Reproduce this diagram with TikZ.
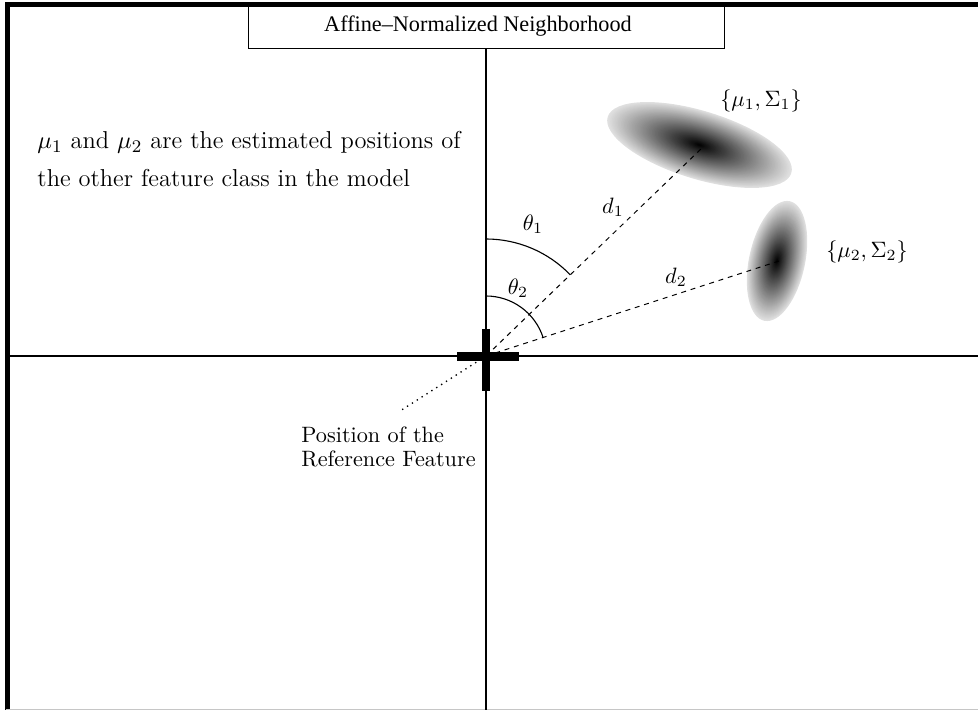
\documentclass[tikz,border=0pt]{standalone}
\usepackage{fontspec}
\newfontfamily\timesfont{Liberation Serif}
\begin{document}
\begin{tikzpicture}[x=0.45pt,y=-0.45pt,
  frameline/.style={line width=2pt, line join=miter},
  axisline/.style={line width=0.9pt},
  rayline/.style={dash pattern=on 2.2pt off 2.2pt, line width=0.45pt},
  angarc/.style={line width=0.5pt},
  crossbar/.style={line width=4pt},
  lbl/.style={font=\fontsize{10}{12}\selectfont, inner sep=0pt},
  bigtxt/.style={font=\fontsize{11}{13}\selectfont, inner sep=0pt, anchor=base west}]
\useasboundingbox (0,0) rectangle (978,710);

% frame
\coordinate (FTR) at (978,4.5);
\coordinate (FTL) at (7.5,4.5);
\coordinate (FBL) at (7.5,712);
\draw[frameline] (FTR) -- (FTL) -- (FBL);
\coordinate (GB1) at (6,709.3);
\coordinate (GB2) at (978,709.3);
\draw[gray!45, line width=0.5pt] (GB1) -- (GB2);

% title box
\node[draw, line width=0.6pt, anchor=north west, minimum width=214.2pt, minimum height=19.6pt, inner sep=0pt] (titlebox) at (248,4.5) {};
\node[inner sep=0pt, font=\timesfont\fontsize{10}{12}\selectfont] (title) at (478,26) {Affine\textendash Normalized Neighborhood};

% key points
\coordinate (O) at (486,356);
\coordinate (M1) at (703,147);
\coordinate (M2) at (779,261);
\coordinate (R) at (400,411);
\coordinate (VB) at (486,712);
\coordinate (HL) at (9,356);
\coordinate (HR) at (978,356);

% axes
\draw[axisline] (titlebox.south -| O) -- (VB);
\draw[axisline] (HL) -- (HR);

% gaussian ellipses
\begin{scope}[shift={(699.5,145)}, rotate=-17]
  \foreach \i in {0,...,59}{
    \pgfmathsetmacro\t{1-\i/60}
    \pgfmathsetmacro\c{100-88*\t}
    \pgfmathsetmacro\rx{43.2*\t}
    \pgfmathsetmacro\ry{15.3*\t}
    \fill[black!\c] (0,0) ellipse [x radius=\rx pt, y radius=\ry pt];
  }
\end{scope}
\begin{scope}[shift={(777,261)}, rotate=-12]
  \foreach \i in {0,...,59}{
    \pgfmathsetmacro\t{1-\i/60}
    \pgfmathsetmacro\c{100-88*\t}
    \pgfmathsetmacro\rx{12.6*\t}
    \pgfmathsetmacro\ry{27.5*\t}
    \fill[black!\c] (0,0) ellipse [x radius=\rx pt, y radius=\ry pt];
  }
\end{scope}

% rays
\draw[rayline] (O) -- (M1);
\draw[rayline] (O) -- (M2);
\draw[dotted, line width=0.6pt] (O) -- (R);

% angle arcs
\coordinate (A1) at (486,239);
\coordinate (A2) at (486,296);
\draw[angarc] (A1) arc[start angle=90, end angle=43.9, radius=52.65pt];
\draw[angarc] (A2) arc[start angle=90, end angle=18, radius=27pt];

% reference cross
\coordinate (CL) at (457,356.5);
\coordinate (CR) at (519,356.5);
\coordinate (CT) at (486,329);
\coordinate (CB) at (486,391);
\draw[crossbar] (CL) -- (CR);
\draw[crossbar] (CT) -- (CB);

% labels
\node[lbl] (l1) at (761,101) {$\{\mu_1,\Sigma_1\}$};
\node[lbl] (l2) at (867,252) {$\{\mu_2,\Sigma_2\}$};
\node[lbl] (d1) at (613,207) {$d_1$};
\node[lbl] (d2) at (676,277) {$d_2$};
\node[lbl] (t1) at (533,224) {$\theta_1$};
\node[lbl] (t2) at (518,288) {$\theta_2$};

\node[bigtxt] (txt1) at (37,149) {$\mu_1$ and $\mu_2$ are the estimated positions of};
\node[bigtxt] (txt2) at (37,187) {the other feature class in the model};

\node[lbl, anchor=base west] (p1) at (301,443) {Position of the};
\node[lbl, anchor=base west] (p2) at (301,467) {Reference Feature};
\end{tikzpicture}
\end{document}
